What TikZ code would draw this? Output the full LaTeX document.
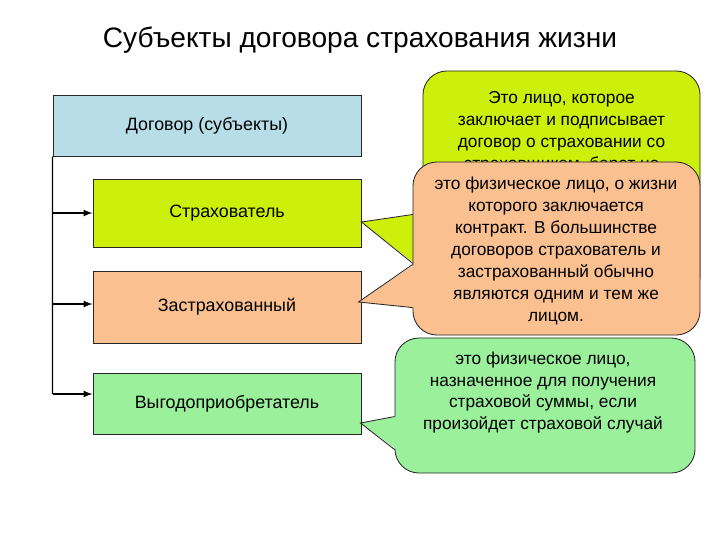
\documentclass[tikz,border=0pt]{standalone}
\usepackage{fontspec}
\setmainfont{Liberation Sans}
\usetikzlibrary{arrows,positioning,calc}

\definecolor{dogblue}{RGB}{183,221,232}
\definecolor{strahgreen}{RGB}{205,240,10}
\definecolor{zastrpeach}{RGB}{250,192,144}
\definecolor{vyglime}{RGB}{155,240,155}

\tikzset{
  rolebox/.style={draw=black!85,line width=0.6pt,minimum width=6.7cm,font=\fontsize{12.7}{15}\selectfont},
  bubble/.style={draw=black!85,line width=0.6pt,rounded corners=0.6cm},
  bubbletext/.style={align=center,font=\fontsize{12.3}{15.6}\selectfont},
  tipline/.style={draw=black!85,line width=0.6pt},
  feed/.style={-latex,line width=1.2pt}
}

\begin{document}
\begin{tikzpicture}[x=0.025cm,y=-0.025cm]
  \useasboundingbox (0,0) rectangle (720,540);
  \node[font=\fontsize{20}{24}\selectfont] (title) at (360,40) {Субъекты договора страхования жизни};

  % left column
  \node[rolebox,fill=dogblue,minimum width=7.7cm,minimum height=1.525cm] (dog) at (207,125.5) {Договор (субъекты)};
  \node[rolebox,fill=strahgreen,minimum height=1.7cm] (strah) at (227,213) {Страхователь};
  \node[rolebox,fill=zastrpeach,minimum height=1.8cm] (zastr) at (227,307) {Застрахованный};
  \node[rolebox,fill=vyglime,minimum height=1.525cm] (vyg) at (227,403.5) {Выгодоприобретатель};

  \coordinate (trunkend) at ($(vyg.west)+(-40,-9.5)$);
  \draw[line width=1pt] (dog.south west) -- (trunkend);
  \draw[feed] (dog.south west |- strah.west) -- (strah.west);
  \draw[feed] ($(dog.south west |- zastr.west)+(0,-3)$) -- ($(zastr.west)+(0,-3)$);
  \draw[feed] (trunkend) -- (trunkend -| vyg.west);

  % callout for Страхователь
  \node[bubble,fill=strahgreen,minimum width=6.925cm,minimum height=5.725cm] (bubA) at (561.5,185.5) {};
  \coordinate (tipA) at ($(strah.east)+(0,9)$);
  \coordinate (a1) at ($(bubA.north west)+(0,142.5)$);
  \coordinate (a2) at ($(bubA.north west)+(0,200.7)$);
  \fill[strahgreen] (tipA) -- ([xshift=1.5pt]a1) -- ([xshift=1.5pt]a2) -- cycle;
  \draw[tipline] (a1) -- (tipA) -- (a2);
  \node[bubbletext] (txtA) at (561.5,132.5) {Это лицо, которое\\заключает и подписывает\\договор о страховании со\\страховщиком, берет на};

  % callout for Застрахованный
  \node[bubble,fill=zastrpeach,minimum width=7.175cm,minimum height=4.325cm] (bubB) at (556.5,248.5) {};
  \coordinate (tipB) at ($(zastr.east)+(-3,-5)$);
  \coordinate (b1) at ($(bubB.north west)+(0,103)$);
  \coordinate (b2) at ($(bubB.north west)+(0,146)$);
  \fill[zastrpeach] (tipB) -- ([xshift=1.5pt]b1) -- ([xshift=1.5pt]b2) -- cycle;
  \draw[tipline] (b1) -- (tipB) -- (b2);
  \node[bubbletext] (txtB) at (556,251) {это физическое лицо, о жизни\\которого заключается\\контракт. В большинстве\\договоров страхователь и\\застрахованный обычно\\являются одним и тем же\\лицом.};

  % callout for Выгодоприобретатель
  \node[bubble,fill=vyglime,minimum width=7.5cm,minimum height=3.375cm] (bubC) at (545,405.5) {};
  \coordinate (tipC) at ($(vyg.east)+(-1,19.5)$);
  \coordinate (c1) at ($(bubC.north west)+(0,79)$);
  \coordinate (c2) at ($(bubC.north west)+(0,112)$);
  \fill[vyglime] (tipC) -- ([xshift=1.5pt]c1) -- ([xshift=1.5pt]c2) -- cycle;
  \draw[tipline] (c1) -- (tipC) -- (c2);
  \node[bubbletext] (txtC) at (543,392.5) {это физическое лицо,\\назначенное для получения\\страховой суммы, если\\произойдет страховой случай};
\end{tikzpicture}
\end{document}
